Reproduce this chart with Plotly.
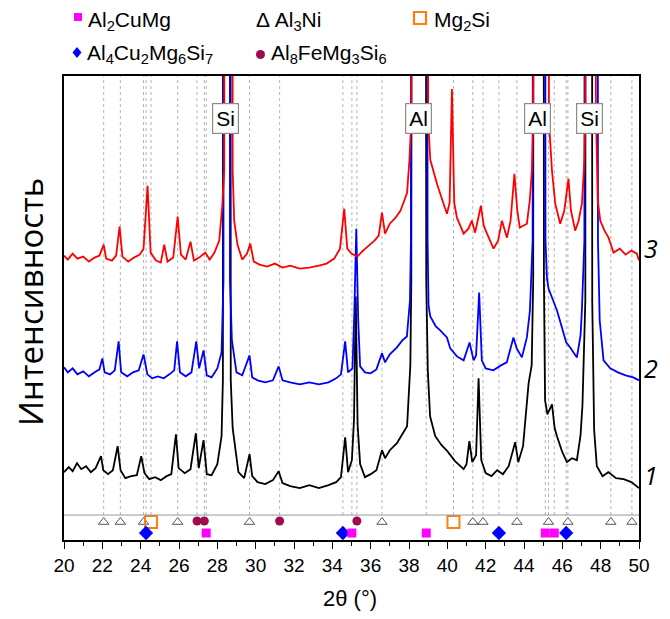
import plotly.graph_objects as go

# ---------------- data (2θ in degrees, intensity in a.u., curves already offset) ----------------
# curve 1 (black)
curve1 = [
    (20.00, 68), (20.25, 73), (20.45, 69), (20.68, 77), (20.90, 71), (21.15, 74), (21.40, 68), (21.65, 72),
    (21.93, 84), (22.05, 70), (22.30, 66), (22.55, 70), (22.80, 94), (22.95, 70), (23.20, 62), (23.50, 64),
    (23.80, 65), (24.03, 84), (24.20, 67), (24.45, 61), (24.75, 63), (25.05, 60), (25.35, 64), (25.60, 66),
    (25.84, 106), (25.98, 72), (26.30, 67), (26.60, 71), (26.88, 107), (27.03, 72), (27.28, 100), (27.45, 66),
    (27.70, 65), (28.00, 76), (28.22, 104), (28.29, 160), (28.48, 9000), (28.70, 160), (28.80, 112),
    (28.94, 93), (29.10, 68), (29.40, 62), (29.68, 86), (29.82, 64), (30.10, 58), (30.50, 56), (30.90, 60),
    (31.20, 69), (31.40, 57), (31.80, 54), (32.30, 52), (32.80, 55), (33.30, 52), (33.80, 55), (34.20, 58),
    (34.45, 63), (34.67, 103), (34.82, 68), (35.02, 80), (35.13, 120), (35.22, 244), (35.32, 115),
    (35.45, 76), (35.70, 63), (36.00, 66), (36.30, 70), (36.59, 90), (36.75, 82), (37.00, 90), (37.37, 97),
    (37.65, 106), (37.90, 114), (38.07, 175), (38.12, 260), (38.52, 9000), (38.90, 260), (38.98, 170),
    (39.10, 124), (39.37, 104), (39.70, 95), (40.00, 89), (40.40, 79), (40.85, 71), (41.00, 76), (41.15, 99),
    (41.30, 78), (41.50, 85), (41.63, 162), (41.77, 80), (42.00, 67), (42.30, 64), (42.60, 70), (42.90, 66),
    (43.20, 74), (43.54, 98), (43.70, 78), (43.95, 94), (44.24, 157), (44.40, 175), (44.48, 260),
    (44.77, 9000), (45.04, 260), (45.10, 140), (45.22, 126), (45.46, 136), (45.60, 112), (45.72, 104),
    (46.00, 88), (46.24, 78), (46.50, 82), (46.76, 80), (46.95, 105), (47.05, 135), (47.20, 240),
    (47.38, 9000), (47.56, 240), (47.66, 110), (47.80, 74), (48.10, 64), (48.40, 68), (48.80, 62),
    (49.20, 61), (49.60, 58), (50.00, 52),
]
# curve 2 (blue)
curve2 = [
    (20.00, 173), (20.20, 168), (20.45, 172), (20.70, 166), (21.00, 169), (21.30, 164), (21.60, 168),
    (21.85, 171), (22.00, 182), (22.12, 168), (22.40, 166), (22.65, 170), (22.85, 199), (22.98, 168),
    (23.30, 164), (23.60, 168), (23.90, 170), (24.15, 186), (24.35, 166), (24.60, 162), (24.90, 164),
    (25.20, 162), (25.50, 166), (25.75, 170), (25.90, 199), (26.05, 168), (26.35, 164), (26.65, 168),
    (26.90, 199), (27.05, 172), (27.28, 190), (27.45, 165), (27.70, 163), (28.00, 172), (28.22, 188),
    (28.32, 260), (28.50, 9000), (28.66, 260), (28.76, 200), (28.85, 187), (29.00, 168), (29.30, 165),
    (29.68, 185), (29.82, 163), (30.10, 160), (30.50, 158), (30.90, 160), (31.20, 174), (31.40, 160),
    (31.80, 158), (32.30, 156), (32.80, 158), (33.30, 156), (33.80, 158), (34.20, 162), (34.45, 166),
    (34.67, 199), (34.82, 168), (35.05, 172), (35.15, 230), (35.25, 312), (35.35, 220), (35.45, 174),
    (35.70, 168), (36.00, 167), (36.30, 171), (36.59, 187), (36.75, 178), (37.00, 186), (37.37, 193),
    (37.65, 200), (37.89, 204), (38.05, 240), (38.10, 300), (38.51, 9000), (38.97, 300), (39.02, 235),
    (39.11, 224), (39.40, 214), (39.63, 210), (39.98, 203), (40.15, 192), (40.50, 184), (40.85, 180),
    (41.16, 198), (41.37, 180), (41.50, 185), (41.66, 248), (41.80, 180), (42.00, 172), (42.40, 170),
    (42.80, 175), (43.10, 178), (43.45, 203), (43.62, 192), (43.89, 183), (44.15, 203), (44.31, 230),
    (44.45, 300), (44.80, 9000), (45.12, 300), (45.20, 262), (45.28, 252), (45.46, 243), (45.72, 230),
    (45.98, 213), (46.20, 198), (46.41, 193), (46.76, 183), (46.95, 205), (47.02, 230), (47.15, 300),
    (47.52, 9000), (47.86, 300), (47.95, 220), (48.15, 180), (48.50, 172), (48.90, 168), (49.30, 165),
    (49.70, 163), (50.00, 160),
]
# curve 3 (red)
curve3 = [
    (20.00, 285), (20.20, 281), (20.45, 287), (20.70, 282), (21.00, 284), (21.30, 279), (21.60, 283),
    (21.85, 285), (22.07, 296), (22.20, 282), (22.50, 280), (22.72, 285), (22.90, 314), (23.05, 284),
    (23.35, 279), (23.65, 283), (23.95, 286), (24.15, 292), (24.36, 355), (24.52, 288), (24.80, 280),
    (25.05, 278), (25.23, 296), (25.40, 279), (25.70, 283), (25.93, 324), (26.10, 286), (26.35, 281),
    (26.60, 299), (26.78, 280), (27.05, 283), (27.37, 288), (27.60, 281), (27.85, 288), (28.10, 300),
    (28.25, 333), (28.36, 370), (28.58, 9000), (28.80, 370), (28.88, 320), (29.05, 296), (29.30, 281),
    (29.55, 287), (29.72, 297), (29.90, 279), (30.20, 276), (30.60, 274), (31.00, 277), (31.40, 273),
    (31.80, 275), (32.30, 272), (32.80, 273), (33.30, 275), (33.70, 277), (34.10, 282), (34.40, 292),
    (34.62, 332), (34.78, 292), (35.00, 287), (35.30, 284), (35.60, 290), (35.90, 295), (36.20, 300),
    (36.42, 305), (36.59, 328), (36.75, 307), (37.00, 317), (37.30, 323), (37.55, 330), (37.75, 340),
    (37.90, 348), (38.02, 380), (38.12, 420), (38.56, 9000), (39.00, 420), (39.11, 381), (39.46, 357),
    (39.75, 340), (39.98, 327), (40.12, 338), (40.24, 452), (40.36, 338), (40.50, 323), (40.85, 307),
    (41.10, 312), (41.28, 320), (41.45, 308), (41.75, 335), (41.90, 315), (42.07, 307), (42.41, 292),
    (42.65, 300), (42.85, 320), (43.11, 303), (43.30, 320), (43.50, 367), (43.65, 330), (43.78, 313),
    (44.15, 317), (44.30, 340), (44.41, 370), (44.48, 420), (44.90, 9000), (45.30, 420), (45.46, 370),
    (45.63, 337), (45.89, 317), (46.10, 330), (46.32, 362), (46.45, 330), (46.67, 310), (46.85, 320),
    (47.02, 337), (47.15, 380), (47.20, 430), (47.46, 9000), (47.75, 430), (47.85, 340), (47.98, 320),
    (48.20, 310), (48.41, 303), (48.67, 288), (49.00, 292), (49.30, 286), (49.60, 290), (49.89, 287),
    (50.00, 280),
]
curve_names = ["1", "2", "3"]
curve_colors = ["#000000", "#0000ff", "#ff0000"]

# reference phase positions (2θ)
al2cumg = [27.42, 35.02, 38.90, 45.11, 45.58]
al3ni = [22.07, 22.94, 24.15, 25.93, 29.68, 36.59, 41.33, 41.86, 43.63, 45.28, 46.29, 48.53, 49.63]
mg2si = [24.54, 40.32]
al4cu2mg6si7 = [24.28, 34.55, 42.69, 46.20]
al8femg3si6 = [26.94, 27.32, 31.25, 35.28]

peak_labels = ["Si", "Al", "Al", "Si"]
peak_label_x = [28.45, 38.50, 44.73, 47.43]

x_ticks = list(range(20, 51, 2))

# ---------------- layout geometry ----------------
OFF = 8                     # default page body margin
WIN_W = 670
W, H = WIN_W - OFF, 606
PL, PR, PT, PB = 64, 639, 76, 540   # plot-area edges in window pixels
ML, MR, MT, MB = PL - OFF, WIN_W - PR, PT - OFF, OFF + H - PB
PW, PH = PR - PL, PB - PT
Y_TOP = 465
STRIP_Y = 25
ROW_HI, ROW_LO = 18, 7
FONT = "Liberation Sans, Arial, sans-serif"


def pxx(x):
    return (x - PL) / PW


def pxy(y):
    return (PB - y) / PH


fig = go.Figure()

# dotted reference lines
all_pos = sorted(al2cumg + al3ni + mg2si + al4cu2mg6si7 + al8femg3si6)
vx, vy = [], []
for p in all_pos:
    vx += [p, p, None]
    vy += [STRIP_Y, Y_TOP, None]
fig.add_trace(go.Scatter(x=vx, y=vy, mode="lines", hoverinfo="skip",
                         line=dict(color="#b4b4b4", width=1, dash="dot"), showlegend=False))

# curves
for data, name, col in zip([curve1, curve2, curve3], curve_names, curve_colors):
    xs = [p[0] for p in data]
    ys = [p[1] for p in data]
    fig.add_trace(go.Scatter(x=xs, y=ys, mode="lines", name=name,
                             line=dict(color=col, width=1.8), showlegend=False))

# phase markers
def mk(xs, yrow, symbol, color, size, lw=0, lc=None):
    fig.add_trace(go.Scatter(
        x=xs, y=[yrow] * len(xs), mode="markers", showlegend=False, cliponaxis=False,
        marker=dict(symbol=symbol, color=color, size=size,
                    line=dict(width=lw, color=lc if lc else color))))

mk(al3ni, ROW_HI, "triangle-up-open", "#555555", 9, 1)
mk(mg2si, ROW_HI, "square-open", "#ff7f0e", 12, 2)
mk(al8femg3si6, ROW_HI + 1, "circle", "#9e0b4f", 9)
mk(al4cu2mg6si7, ROW_LO, "diamond", "#0000ff", 11)
mk(al2cumg, ROW_LO, "square", "#ff00ff", 9)

shapes = [
    dict(type="line", xref="paper", yref="y", x0=0, x1=1, y0=STRIP_Y, y1=STRIP_Y,
         line=dict(color="#9a9a9a", width=1)),
    # legend markers
    dict(type="rect", xref="paper", yref="paper", x0=pxx(74), x1=pxx(82), y0=pxy(21), y1=pxy(13),
         fillcolor="#ff00ff", line=dict(width=0)),
    dict(type="rect", xref="paper", yref="paper", x0=pxx(414), x1=pxx(426), y0=pxy(24), y1=pxy(12),
         fillcolor="rgba(0,0,0,0)", line=dict(color="#ff7f0e", width=2.2)),
    dict(type="path", xref="paper", yref="paper",
         path=f"M {pxx(77)} {pxy(47)} L {pxx(81.5)} {pxy(52.5)} L {pxx(77)} {pxy(58)} L {pxx(72.5)} {pxy(52.5)} Z",
         fillcolor="#0000ff", line=dict(width=0)),
    dict(type="circle", xref="paper", yref="paper", x0=pxx(256), x1=pxx(265), y0=pxy(59), y1=pxy(50),
         fillcolor="#9e0b4f", line=dict(width=0)),
]

annotations = []
for lab, x in zip(peak_labels, peak_label_x):
    annotations.append(dict(x=x, y=422, xref="x", yref="y", text=lab, showarrow=False,
                            xanchor="center", yanchor="middle",
                            font=dict(family=FONT, size=21, color="black"),
                            bgcolor="white", bordercolor="#8c8c8c", borderwidth=1.2, borderpad=3))

# curve numbers at right
for name, yv in zip(curve_names, [65, 172, 293]):
    annotations.append(dict(x=pxx(651), y=yv, xref="paper", yref="y", text=f"<i>{name}</i>",
                            showarrow=False, xanchor="center", yanchor="middle",
                            font=dict(family="Open Sans, sans-serif", size=25, color="black")))

# legend texts
leg = [
    (86, 21, "Al<sub>2</sub>CuMg"),
    (254, 21, "Δ Al<sub>3</sub>Ni"),
    (432, 21, "Mg<sub>2</sub>Si"),
    (85, 54, "Al<sub>4</sub>Cu<sub>2</sub>Mg<sub>6</sub>Si<sub>7</sub>"),
    (269, 54, "Al<sub>8</sub>FeMg<sub>3</sub>Si<sub>6</sub>"),
]
for x, y, t in leg:
    annotations.append(dict(x=pxx(x), y=pxy(y), xref="paper", yref="paper", text=t, showarrow=False,
                            xanchor="left", yanchor="middle",
                            font=dict(family=FONT, size=21, color="black")))

# axis titles
annotations.append(dict(x=pxx(30), y=pxy(302), xref="paper", yref="paper", text="Интенсивность",
                        textangle=-90, showarrow=False, xanchor="center", yanchor="middle",
                        font=dict(family="Open Sans, sans-serif", size=33, color="black")))
annotations.append(dict(x=pxx(350), y=pxy(598), xref="paper", yref="paper", text="2θ (°)",
                        showarrow=False, xanchor="center", yanchor="middle",
                        font=dict(family=FONT, size=22, color="black")))

fig.update_layout(
    width=W, height=H, margin=dict(l=ML, r=MR, t=MT, b=MB, autoexpand=False),
    paper_bgcolor="white", plot_bgcolor="white",
    shapes=shapes, annotations=annotations, showlegend=False,
    xaxis=dict(range=[20, 50], tickvals=x_ticks, ticks="outside", ticklen=7, tickwidth=1.3,
               tickcolor="black", showgrid=False, zeroline=False,
               showline=True, linecolor="black", linewidth=1.5, mirror=True,
               tickfont=dict(family=FONT, size=19, color="black"),
               minor=dict(dtick=1, ticks="outside", ticklen=4, tickwidth=1.3, tickcolor="black")),
    yaxis=dict(range=[0, Y_TOP], showticklabels=False, ticks="", showgrid=False, zeroline=False,
               showline=True, linecolor="black", linewidth=1.5, mirror=True),
)

fig.write_html("out.html")
